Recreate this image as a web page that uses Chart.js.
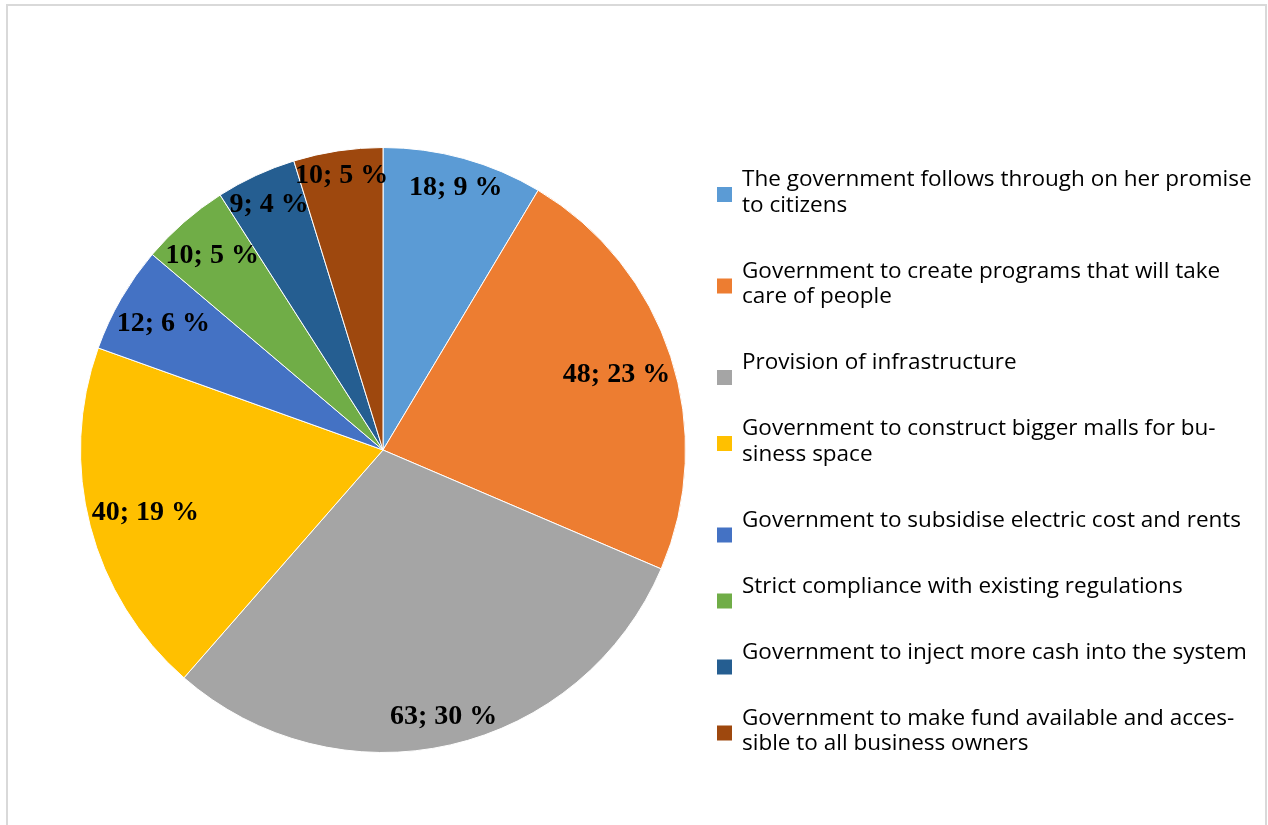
<!DOCTYPE html>
<html>
<head>
<meta charset="utf-8">
<script src="https://cdn.jsdelivr.net/npm/chart.js@4.4.1/dist/chart.umd.min.js"></script>
<style>
  html, body { margin: 0; padding: 0; background: #fff; }
  #wrap { width: 1268px; height: 825px; }
</style>
</head>
<body>
<div id="wrap"><canvas id="pie-chart"></canvas></div>
<script>
// legend text, broken into lines the way the picture shows it
const categories = [
  ['The government follows through on her promise', 'to citizens'],
  ['Government to create programs that will take', 'care of people'],
  ['Provision of infrastructure'],
  ['Government to construct bigger malls for bu-', 'siness space'],
  ['Government to subsidise electric cost and rents'],
  ['Strict compliance with existing regulations'],
  ['Government to inject more cash into the system'],
  ['Government to make fund available and acces-', 'sible to all business owners']
];
const counts = [18, 48, 63, 40, 12, 10, 9, 10];
const colors = ['#5B9BD5', '#ED7D31', '#A5A5A5', '#FFC000', '#4472C4', '#70AD47', '#255E91', '#9E480E'];

const total = counts.reduce((a, b) => a + b, 0);
const percents = counts.map(v => Math.round(v / total * 100));

const pie = document.getElementById('pie-chart');

// "inside end" style labels, like the office chart
const sliceLabels = {
  id: 'sliceLabels',
  afterDatasetsDraw(chart) {
    const ctx = chart.ctx;
    const meta = chart.getDatasetMeta(0);
    ctx.save();
    ctx.font = 'bold 28px "Liberation Serif", "Times New Roman", serif';
    ctx.fillStyle = '#000';
    ctx.textAlign = 'center';
    ctx.textBaseline = 'middle';
    meta.data.forEach((arc, i) => {
      const p = arc.getProps(['x', 'y', 'startAngle', 'endAngle', 'outerRadius'], true);
      const mid = (p.startAngle + p.endAngle) / 2;
      const txt = counts[i] + '; ' + percents[i] + ' %';
      const w = ctx.measureText(txt).width;
      const h = 24;
      const lim = p.outerRadius - 2;
      let r = lim;
      for (; r > 0; r -= 0.5) {
        const cx = Math.cos(mid) * r, cy = Math.sin(mid) * r;
        let ok = true;
        [[-1, -1], [1, -1], [-1, 1], [1, 1]].forEach(([sx, sy]) => {
          const dx = cx + sx * w / 2, dy = cy + sy * h / 2;
          if (Math.hypot(dx, dy) > lim) ok = false;
        });
        if (ok) break;
      }
      ctx.fillText(txt, p.x + Math.cos(mid) * r, p.y + Math.sin(mid) * r + 1);
    });
    ctx.restore();
  }
};

// legend on the right with wrapped lines + figure frame
const sideLegend = {
  id: 'sideLegend',
  beforeDraw(chart) {
    const ctx = chart.ctx;
    ctx.save();
    ctx.fillStyle = '#fff';
    ctx.fillRect(0, 0, chart.width, chart.height);
    ctx.strokeStyle = '#d9d9d9';
    ctx.lineWidth = 2;
    ctx.strokeRect(7, 5, 1259, 900);
    ctx.restore();
  },
  afterDraw(chart) {
    const ctx = chart.ctx;
    const bg = chart.data.datasets[0].backgroundColor;
    ctx.save();
    ctx.font = '22.5px "Open Sans", "Noto Sans", sans-serif';
    ctx.fillStyle = '#000';
    ctx.textAlign = 'left';
    ctx.textBaseline = 'middle';
    const lineH = 25.5, gap = 40.5;
    let y = 180;
    chart.data.labels.forEach((lines, i) => {
      ctx.fillStyle = bg[i];
      ctx.fillRect(717, y + 7, 15, 15);
      ctx.fillStyle = '#000';
      lines.forEach((ln, k) => ctx.fillText(ln, 742, y + k * lineH));
      y += lines.length * lineH + gap;
    });
    ctx.restore();
  }
};

new Chart(pie, {
  type: 'pie',
  data: {
    labels: categories,
    datasets: [{
      data: counts,
      backgroundColor: colors,
      borderColor: '#fff',
      borderWidth: 1
    }]
  },
  options: {
    responsive: true,
    maintainAspectRatio: false,
    animation: false,
    layout: {
      padding: { left: 80, top: 147, right: 582, bottom: 72 }
    },
    plugins: {
      legend: { display: false },
      tooltip: { enabled: true }
    }
  },
  plugins: [sliceLabels, sideLegend]
});
</script>
</body>
</html>
